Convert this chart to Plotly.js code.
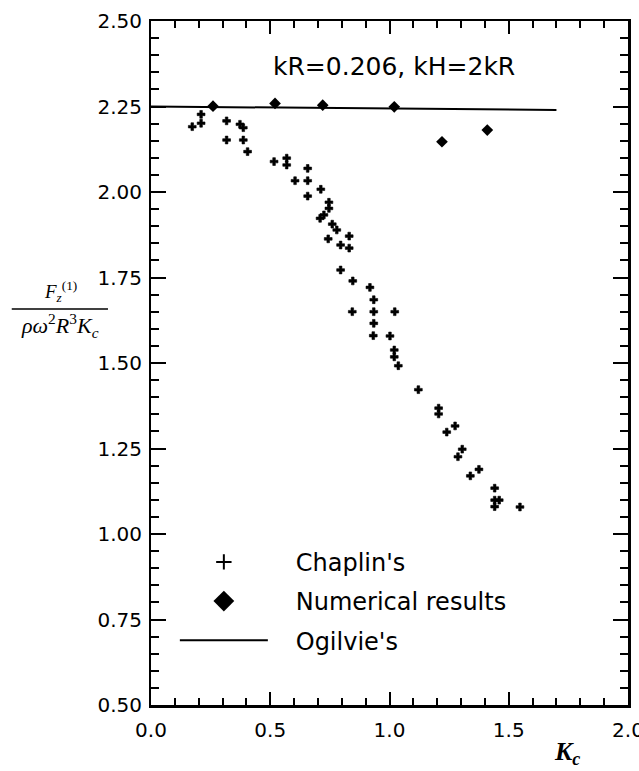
<!DOCTYPE html>
<html><head><meta charset="utf-8">
<script src="https://cdn.plot.ly/plotly-3.0.1.min.js"></script>
<style>body{margin:0;background:#fff}</style>
</head><body><div id="chart" style="width:639px;height:771px"></div>
<script>
// Chaplin's experimental points (Kc, normalized force)
const chaplinKc = [0.173,0.210,0.210,0.317,0.317,0.373,0.387,0.387,0.405,0.516,0.569,0.569,0.657,0.604,0.657,0.657,0.712,0.746,0.746,0.709,0.725,0.760,0.779,0.743,0.831,0.795,0.831,0.795,0.846,0.918,0.934,0.844,0.934,1.022,0.934,0.932,1.002,1.020,1.020,1.037,1.121,1.206,1.206,1.275,1.240,1.305,1.287,1.375,1.339,1.441,1.441,1.460,1.441,1.547];
const chaplinF  = [2.191,2.227,2.201,2.208,2.152,2.198,2.188,2.152,2.118,2.089,2.099,2.079,2.069,2.033,2.033,1.988,2.008,1.970,1.952,1.923,1.933,1.906,1.889,1.863,1.871,1.845,1.836,1.772,1.740,1.721,1.685,1.650,1.650,1.650,1.616,1.580,1.579,1.538,1.518,1.492,1.422,1.368,1.351,1.316,1.298,1.248,1.226,1.189,1.170,1.134,1.099,1.099,1.080,1.079];
// Numerical results
const numKc = [0.26,0.52,0.72,1.02,1.22,1.41];
const numF  = [2.251,2.259,2.254,2.249,2.147,2.181];
// Ogilvie's theory
const ogilvieKc = [0.0,1.70];
const ogilvieF  = [2.25,2.24];
// Axis tick settings
const xRange = [0, 2], xMajor = 0.5, xMinor = 0.1, xFormat = '.1f';
const yRange = [0.5, 2.5], yMajor = 0.25, yMinor = 0.05, yFormat = '.2f';
const seriesNames = ["Chaplin's","Numerical results","Ogilvie's"];

const pad = '\u00a0\u00a0\u00a0';
const traces = [
  {x: chaplinKc, y: chaplinF, type:'scatter', mode:'markers', showlegend:false,
   marker:{symbol:'cross', size:6.5, color:'#000', line:{color:'#000', width:0.6}}},
  {x: numKc, y: numF, type:'scatter', mode:'markers', showlegend:false,
   marker:{symbol:'diamond', size:9, color:'#000'}},
  {x: ogilvieKc, y: ogilvieF, type:'scatter', mode:'lines', showlegend:false,
   line:{color:'#000', width:2}},
  // legend entries
  {x:[null], y:[null], xaxis:'x2', yaxis:'y2', type:'scatter', mode:'markers', name: pad+seriesNames[0], legendgroup:'a',
   marker:{symbol:'cross-thin', size:11, color:'#000', line:{color:'#000', width:2}}},
  {x:[null], y:[null], xaxis:'x2', yaxis:'y2', type:'scatter', mode:'markers', name: pad+seriesNames[1], legendgroup:'b',
   marker:{symbol:'diamond', size:16, color:'#000'}},
  {x:[null], y:[null], xaxis:'x2', yaxis:'y2', type:'scatter', mode:'lines', name: pad+seriesNames[2], legendgroup:'c',
   line:{color:'#000', width:2}}
];

const tickFont = {family:'DejaVu Sans, Arial, sans-serif', size:20, color:'#000'};
const serif = 'Liberation Serif, DejaVu Serif, serif';
const axisCommon = {ticks:'inside', tickwidth:2, tickcolor:'#000', showline:true, linewidth:2.5,
  linecolor:'#000', mirror:'ticks', showgrid:false, zeroline:false, tickfont:tickFont,
  showticklabels:false};
const labelAxis = {ticks:'', showline:false, showgrid:false, zeroline:false, tickfont:tickFont,
  ticklabeloverflow:'allow', anchor:'free', position:0};
const layout = {
  width:639, height:771,
  margin:{l:142, r:11, t:21, b:55},
  paper_bgcolor:'#fff', plot_bgcolor:'rgba(0,0,0,0)',
  showlegend:true,
  legend:{x:0.0676, y:0.2535, xanchor:'left', yanchor:'top', bgcolor:'rgba(0,0,0,0)',
    itemwidth:88, font:{family:'DejaVu Sans, Arial, sans-serif', size:24, color:'#000'},
    tracegroupgap:5},
  xaxis:Object.assign({}, axisCommon, {range:xRange, domain:[9/486, 1], tickmode:'linear', tick0:0, dtick:xMajor,
    ticklen:13,
    minor:{tickmode:'linear', dtick:xMinor, ticks:'inside', ticklen:7, tickwidth:2, tickcolor:'#000', showgrid:false}}),
  yaxis:Object.assign({}, axisCommon, {range:yRange, domain:[11/695, 1], tickmode:'linear', tick0:0.5, dtick:yMajor,
    ticklen:15,
    minor:{tickmode:'linear', dtick:yMinor, ticks:'inside', ticklen:8, tickwidth:2, tickcolor:'#000', showgrid:false}}),
  xaxis2:Object.assign({}, labelAxis, {overlaying:'x', matches:'x', range:xRange,
    tickmode:'linear', tick0:0, dtick:xMajor, tickformat:xFormat}),
  yaxis2:Object.assign({}, labelAxis, {overlaying:'y', matches:'y', range:yRange, tickmode:'linear', tick0:0.5,
    dtick:yMajor, tickformat:yFormat}),
  annotations:[
    {text:'kR=0.206, kH=2kR', xref:'paper', yref:'paper', x:0.5185, y:0.934, xanchor:'center', yanchor:'middle', showarrow:false,
     font:{family:'DejaVu Sans, Arial, sans-serif', size:25, color:'#000'}},
    {text:'<i><b>K</b></i><sub><i><b>c</b></i></sub>', xref:'paper', yref:'paper', x:0.8739, y:-0.053, xanchor:'center', yanchor:'middle', showarrow:false,
     font:{family:serif, size:26, color:'#000'}},
    {text:'<i>F</i><sub><i>z</i></sub><sup>(1)</sup>', xref:'paper', yref:'paper', x:-0.1687, y:0.6115, xanchor:'center', yanchor:'middle', showarrow:false,
     font:{family:serif, size:19, color:'#000'}},
    {text:'<i>ρω</i><sup>2</sup><i>R</i><sup>3</sup><i>K<sub>c</sub></i>', xref:'paper', yref:'paper', x:-0.169, y:0.562, xanchor:'center', yanchor:'middle', showarrow:false,
     font:{family:serif, size:22, color:'#000'}}
  ],
  shapes:[
    {type:'line', xref:'paper', yref:'paper', x0:-0.268, x1:-0.070, y0:0.5856, y1:0.5856,
     line:{color:'#000', width:1.5}}
  ]
};
Plotly.newPlot('chart', traces, layout, {staticPlot:true, displayModeBar:false});
</script></body></html>
